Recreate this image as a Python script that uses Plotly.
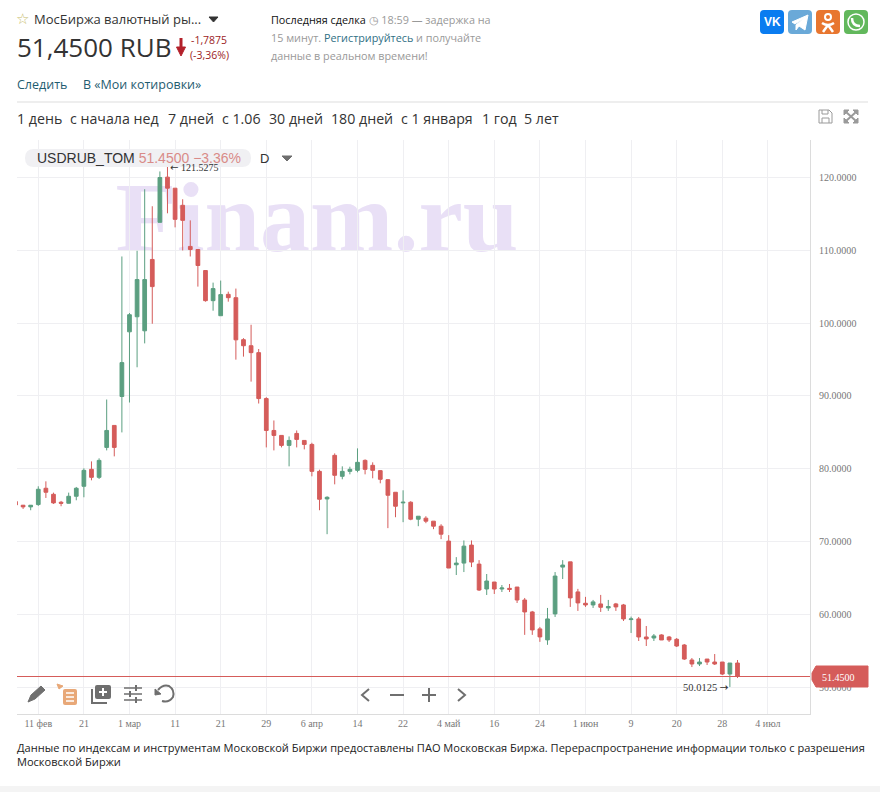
import plotly.graph_objects as go

# daily candles
opens = [75.48, 74.98, 74.75, 75.07, 77.31, 76.48, 75.39, 75.25, 76.21, 77.58, 79.91, 78.81,
         82.92, 85.94, 89.91, 98.80, 100.87, 98.94, 108.74, 113.84, 120.05, 118.53, 116.18, 110.53,
         110.11, 107.22, 103.08, 101.01, 103.95, 103.49, 97.72, 96.89, 95.94, 89.63, 85.25, 84.57,
         83.20, 84.84, 83.88, 83.33, 79.63, 75.84, 81.83, 78.95, 79.63, 79.77, 81.14, 80.46,
         79.73, 78.49, 76.76, 75.30, 75.39, 73.06, 73.20, 72.79, 72.10, 70.05, 66.80, 67.03,
         69.50, 66.89, 63.47, 64.43, 63.47, 63.56, 63.74, 61.96, 60.32, 57.99, 56.48, 60.05,
         66.48, 67.20, 63.07, 61.51, 61.28, 61.42, 60.87, 61.42, 61.28, 59.27, 59.36, 56.88,
         56.74, 57.16, 56.88, 56.56, 55.78, 53.72, 53.17, 53.85, 53.44, 53.44, 51.79, 53.30]
highs = [75.50, 75.02, 74.98, 77.58, 78.26, 76.71, 75.57, 76.71, 77.49, 80.05, 81.00, 81.42,
         89.50, 85.94, 109.15, 101.38, 109.93, 118.39, 116.05, 120.83, 121.5275, 118.53, 117.01, 114.11,
         110.11, 107.22, 105.56, 105.84, 104.32, 104.74, 97.93, 99.77, 96.44, 89.82, 86.62, 84.57,
         84.43, 85.25, 83.88, 83.56, 79.86, 76.21, 82.10, 80.32, 80.27, 82.79, 81.28, 80.87,
         79.77, 78.54, 76.76, 77.03, 75.53, 73.47, 73.47, 72.79, 72.37, 70.87, 67.85, 70.14,
         70.14, 67.44, 65.53, 64.43, 64.02, 64.16, 63.74, 62.24, 60.46, 58.26, 60.87, 65.80,
         67.44, 67.20, 63.49, 62.39, 61.97, 62.66, 61.97, 61.56, 61.42, 59.68, 59.63, 58.39,
         57.29, 57.25, 57.02, 56.74, 55.92, 53.99, 53.99, 53.85, 54.54, 53.44, 53.30, 53.72]
lows = [75.00, 74.47, 74.29, 74.89, 75.98, 75.16, 74.84, 75.21, 75.66, 76.07, 78.40, 78.58,
        82.51, 81.69, 84.98, 89.09, 93.93, 97.21, 99.91, 113.84, 115.08, 113.15, 109.98, 109.15,
        105.01, 102.94, 101.70, 101.01, 102.94, 94.98, 95.39, 91.96, 88.95, 82.92, 82.51, 82.92,
        80.32, 82.92, 82.65, 78.95, 74.29, 71.00, 77.85, 78.54, 79.22, 79.50, 79.22, 78.68,
        77.99, 71.83, 73.33, 72.65, 72.92, 72.10, 72.51, 71.69, 70.32, 66.35, 65.39, 65.80,
        66.48, 63.20, 62.65, 62.79, 63.06, 63.06, 61.55, 57.17, 57.17, 56.21, 55.80, 59.63,
        64.84, 61.01, 60.46, 61.01, 60.87, 60.32, 60.46, 60.46, 59.08, 57.43, 56.33, 55.64,
        56.33, 56.47, 56.19, 55.50, 53.72, 52.75, 52.89, 53.03, 53.03, 51.65, 50.0125, 51.24]
closes = [75.02, 74.75, 74.98, 77.17, 76.76, 75.30, 75.25, 76.21, 77.31, 79.77, 78.81, 81.14,
          85.25, 82.92, 94.57, 101.15, 105.98, 105.98, 105.01, 120.00, 118.53, 114.25, 114.11, 110.11,
          107.91, 103.08, 104.74, 103.91, 103.49, 97.70, 96.89, 95.94, 89.63, 85.25, 84.57, 83.20,
          83.88, 84.02, 83.33, 79.63, 75.80, 76.07, 79.09, 79.63, 79.91, 80.87, 79.91, 79.77,
          78.54, 76.35, 74.84, 75.39, 73.06, 73.47, 72.79, 72.10, 71.00, 66.35, 67.03, 69.36,
          67.17, 63.33, 64.57, 63.47, 63.61, 63.42, 61.96, 60.32, 57.85, 56.89, 59.36, 65.25,
          66.76, 62.25, 61.56, 61.28, 61.70, 60.96, 61.06, 61.01, 59.36, 59.36, 56.88, 56.61,
          57.02, 56.47, 56.47, 55.64, 53.85, 53.17, 53.44, 53.44, 53.17, 51.79, 53.30, 51.45]
candle_index = list(range(len(closes)))

tick_index = [3, 9, 15, 21, 27, 33, 39, 45, 51, 57, 63, 69, 75, 81, 87, 93, 99]
tick_labels = ["11 фев", "21", "1 мар", "11", "21", "29", "6 апр", "14", "22", "4 май",
               "16", "24", "1 июн", "9", "20", "28", "4 июл"]
price_ticks = [50, 60, 70, 80, 90, 100, 110, 120]

range_names = ["1 день", "с начала нед", "7 дней", "с 1.06", "30 дней", "180 дней", "с 1 января", "1 год", "5 лет"]
range_left = [17, 70, 168, 222, 269, 331, 401, 482, 524]

UP = "#5b9f80"
DOWN = "#d55c5a"
GREY = "#6f6f6f"
SANS = "Open Sans"
SERIF = "Liberation Serif"

shapes = []
notes = []


def note(x, y, text, size=12, color="#333333", family=SANS, anchor="left"):
    # annotations pad their text by about 2px
    shift = -2 if anchor == "left" else 0
    notes.append(dict(x=x, y=y, xref="x", yref="y", text=text, showarrow=False, xanchor=anchor, yanchor="middle",
                      xshift=shift, font=dict(size=size, color=color, family=family), align="left"))


def rect(x0, y0, x1, y1, fill, r=0):
    path = (f"M{x0 + r},{y0} L{x1 - r},{y0} Q{x1},{y0} {x1},{y0 + r} L{x1},{y1 - r} Q{x1},{y1} {x1 - r},{y1} "
            f"L{x0 + r},{y1} Q{x0},{y1} {x0},{y1 - r} L{x0},{y0 + r} Q{x0},{y0} {x0 + r},{y0} Z")
    shapes.append(dict(type="path", path=path, xref="x", yref="y", fillcolor=fill, line=dict(width=0)))


def poly(path, fill=None, color=GREY, width=2):
    shapes.append(dict(type="path", path=path, xref="x", yref="y", fillcolor=fill if fill else "rgba(0,0,0,0)",
                       line=dict(color=color, width=width)))


def circle(cx, cy, r, fill=None, color="white", width=2):
    shapes.append(dict(type="circle", x0=cx - r, x1=cx + r, y0=cy - r, y1=cy + r, xref="x", yref="y",
                       fillcolor=fill if fill else "rgba(0,0,0,0)", line=dict(color=color, width=width)))


# page header
note(16, 19, "☆", 15, "#c9bd6c", "DejaVu Sans")
note(34, 19, "МосБиржа валютный ры...", 13, "#333333")
poly("M209,17 L218,17 L213.5,22 Z", "#333333", "#333333", 1)
note(17, 47, "51,4500 RUB", 26, "#333333")
poly("M181,38 L181,50", None, "#b3202a", 3)
poly("M176.5,47 L181,56 L185.5,47 Z", "#b3202a", "#b3202a", 1)
note(191, 40, "-1,7875", 10.5, "#9c1c24")
note(190, 55, "(-3,36%)", 10.5, "#9c1c24")
note(271, 19, '<span style="color:#111111">Последняя сделка</span> ◷ 18:59 — задержка на', 10.8, "#999999")
note(271, 37, '15 минут. <span style="color:#2f6f84">Регистрируйтесь</span> и получайте', 10.8, "#999999")
note(271, 55, "данные в реальном времени!", 10.8, "#999999")
note(17, 84, "Следить", 12.5, "#1f5c70")
note(83, 84, "В «Мои котировки»", 12.5, "#1f5c70")
shapes.append(dict(type="line", x0=17, x1=868, y0=102, y1=102, xref="x", yref="y", line=dict(color="#dddddd", width=1)))
for name, left in zip(range_names, range_left):
    note(left, 118, name, 14.2, "#333333")

# share buttons
rect(760, 10, 784, 34, "#0a7cf0", 4)
note(772, 22, "<b>VK</b>", 12, "white", "Liberation Sans", "center")
rect(788, 10, 812, 34, "#6aa9d8", 4)
poly("M792,22 L808,15 L805,30 L799,26 L796,30 L796,25 L804,18 L795,24 Z", "white", "white", 1)
rect(816, 10, 840, 34, "#e8762f", 4)
circle(828, 17, 3, None, "white", 2)
poly("M822,23 Q828,27 834,23 M828,25 L823,32 M828,25 L833,32", None, "white", 2.5)
rect(844, 10, 868, 34, "#62b85c", 4)
circle(856, 22, 8, None, "white", 1.5)
poly("M852,18 Q852,26 860,26", None, "white", 2.5)

# save / fullscreen
poly("M819,110 L829,110 L832,113 L832,123 L819,123 Z M822,110 L822,114 L828,114 L828,110 M822,123 L822,118 L829,118 L829,123",
     None, "#9a9a9a", 1)
poly("M844,110 L849,110 L844,115 Z M858,110 L853,110 L858,115 Z M844,123 L849,123 L844,118 Z M858,123 L853,123 L858,118 Z",
     "#9a9a9a", "#9a9a9a", 1)
poly("M846,112 L856,121 M856,112 L846,121", None, "#9a9a9a", 2)

# chart legend
rect(25, 149, 251, 167, "#f0f0f3", 9)
note(37, 158, 'USDRUB_TOM <span style="color:#d98b88">51.4500 −3.36%</span>', 14, "#333333", "Liberation Sans")
note(260, 158, "D", 13, "#333333", "Liberation Sans")
poly("M282,156 L292,156 L287,161 Z", GREY, GREY, 1)

# chart toolbar
poly("M28,702 L31,695 L41,686 L45,690 L35,699 Z", GREY, GREY, 1)
poly("M57,684 L63,686 L59,689 Z", "#e8a878", "#e8a878", 1)
rect(63, 689, 77, 705, "#e8a878", 2)
poly("M66,693 L74,693 M66,697 L74,697 M66,701 L74,701", None, "white", 1.5)
rect(95, 685, 111, 699, GREY, 2)
poly("M103,688 L103,696 M99,692 L107,692", None, "white", 2)
poly("M92,689 L92,703 L107,703", None, GREY, 2)
poly("M124,688 L142,688 M124,694 L142,694 M124,700 L142,700", None, GREY, 1.5)
poly("M136,685 L136,691 M130,691 L130,697 M136,697 L136,703", None, GREY, 2)
poly("M158,690 Q163,684 169,686 Q175,690 173,697 Q169,703 162,701", None, GREY, 2)
poly("M155,689 L161,694 L155,695 Z", GREY, GREY, 1)
poly("M369,689 L362,695 L369,701", None, GREY, 2)
poly("M390,695 L404,695", None, GREY, 2)
poly("M422,695 L436,695 M429,688 L429,702", None, GREY, 2)
poly("M458,689 L465,695 L458,701", None, GREY, 2)

# page footer
note(17, 747, "Данные по индексам и инструментам Московской Биржи предоставлены ПАО Московская Биржа. "
              "Перераспространение информации только с разрешения", 11.06, "#222222")
note(17, 761, "Московской Биржи", 11.06, "#222222")
rect(0, 786, 880, 792, "#f4f4f4")

# current price tag
last_close = closes[-1]
shapes.append(dict(type="line", xref="x2 domain", yref="y2", x0=0, x1=1, y0=last_close, y1=last_close,
                   line=dict(color=DOWN, width=1)))
poly("M816,666 L868,666 L868,687 L816,687 L812,680 L812,673 Z", DOWN, DOWN, 1)
note(838, 677, f"{last_close:.4f}", 10, "white", SERIF, "center")

# extreme markers
high_at = highs.index(max(highs))
low_at = lows.index(min(lows))
arrow_font = '<span style="font-family:DejaVu Sans">{}</span>'
notes.append(dict(x=high_at, y=max(highs), xref="x2", yref="y2",
                  text=arrow_font.format("←") + f"\u00a0{max(highs):.4f}", showarrow=False,
                  xanchor="left", yanchor="middle", xshift=1, yshift=-1,
                  font=dict(size=10, color="#333333", family=SERIF)))
notes.append(dict(x=low_at, y=min(lows), xref="x2", yref="y2",
                  text=f"{min(lows):.4f}\u00a0" + arrow_font.format("→"), showarrow=False,
                  xanchor="right", yanchor="middle", xshift=1,
                  font=dict(size=10.5, color="#333333", family=SERIF)))

fig = go.Figure()
# watermark sits on the pixel axes, drawn before the candle subplot
fig.add_trace(go.Scatter(x=[317], y=[226], mode="text", text=["<b>Finam.ru</b>"], textposition="middle center",
                         textfont=dict(size=100, color="#e9e0f6", family=SERIF), hoverinfo="skip",
                         showlegend=False, xaxis="x", yaxis="y"))
fig.add_trace(go.Candlestick(x=candle_index, open=opens, high=highs, low=lows, close=closes,
                             increasing=dict(line=dict(color=UP, width=1), fillcolor=UP),
                             decreasing=dict(line=dict(color=DOWN, width=1), fillcolor=DOWN),
                             whiskerwidth=0, showlegend=False, xaxis="x2", yaxis="y2"))

fig.update_layout(
    width=880, height=792, margin=dict(l=0, r=0, t=0, b=0),
    paper_bgcolor="white", plot_bgcolor="rgba(0,0,0,0)", showlegend=False,
    shapes=shapes, annotations=notes,
    xaxis=dict(domain=[0, 1], range=[0, 880], visible=False, fixedrange=True),
    yaxis=dict(domain=[0, 1], range=[792, 0], visible=False, fixedrange=True),
    xaxis2=dict(domain=[17 / 880, 810 / 880], range=[0.2, 104.54], anchor="y2", tickmode="array",
                tickvals=tick_index, ticktext=tick_labels, showgrid=True, gridcolor="#efeff2", gridwidth=1,
                showline=True, linecolor="#dcdcdc", ticks="", rangeslider=dict(visible=False), zeroline=False,
                tickfont=dict(size=10, color="#777777", family=SERIF)),
    yaxis2=dict(domain=[1 - 714 / 792, 1 - 140 / 792], range=[46.3, 125.15], anchor="x2", side="right",
                tickmode="array", tickvals=price_ticks, tickformat=".4f", showgrid=True, gridcolor="#efeff2",
                showline=True, linecolor="#dcdcdc", ticks="", zeroline=False, ticklabelstandoff=6,
                tickfont=dict(size=10, color="#777777", family=SERIF)),
)

fig.write_html("out.html", config={"displayModeBar": False},
               post_script="document.body.style.margin='0';document.body.style.overflow='hidden';")
